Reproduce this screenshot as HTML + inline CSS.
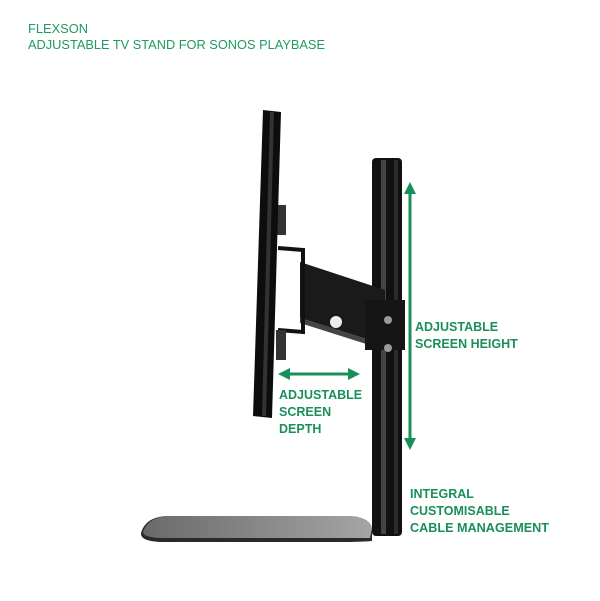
<!DOCTYPE html>
<html><head><meta charset="utf-8"><style>
html,body{margin:0;padding:0;background:#fff;}
svg{display:block}
text{font-family:"Liberation Sans",sans-serif;fill:#1f9a62;font-size:13px;}
.b{font-weight:bold;fill:#1a8f5a;font-size:12.5px}
</style></head><body>
<svg width="600" height="601" viewBox="0 0 600 601">
<defs><linearGradient id="g" x1="0" x2="1"><stop offset="0" stop-color="#6a6a6a"/><stop offset="1" stop-color="#a5a5a5"/></linearGradient></defs>
<rect width="600" height="601" fill="#fff"/>
<text x="28" y="33" textLength="60" lengthAdjust="spacingAndGlyphs">FLEXSON</text>
<text x="28" y="49" textLength="297" lengthAdjust="spacingAndGlyphs">ADJUSTABLE TV STAND FOR SONOS PLAYBASE</text>
<!-- base -->
<path d="M165 516 L350 516 Q372 518 372 530 L372 541 Q360 542 340 542 L160 542 Q140 541 141 533 Q145 518 165 516Z" fill="#2a2a2a"/>
<path d="M165 516 L350 516 Q370 518 372 528 L370 538 L160 538 Q143 537 143 532 Q147 519 165 516Z" fill="url(#g)"/>
<!-- pole -->
<rect x="372" y="158" width="30" height="378" rx="4" fill="#111"/>
<rect x="381" y="160" width="5" height="374" fill="#444"/>
<rect x="394" y="160" width="4" height="374" fill="#2b2b2b"/>
<!-- arm -->
<polygon points="300,262 385,290 385,345 300,318" fill="#1a1a1a"/>
<polygon points="300,318 385,345 385,350 300,323" fill="#444"/>
<rect x="365" y="300" width="40" height="50" fill="#151515"/>
<circle cx="336" cy="322" r="6" fill="#eee"/>
<circle cx="388" cy="320" r="4" fill="#999"/>
<circle cx="388" cy="348" r="4" fill="#999"/>
<!-- bracket -->
<path d="M278 248 L303 250 L303 332 L278 330" fill="none" stroke="#111" stroke-width="4"/>
<rect x="276" y="205" width="10" height="30" fill="#333"/>
<rect x="276" y="330" width="10" height="30" fill="#333"/>
<!-- screen -->
<polygon points="263,110 281,112 272,418 253,416" fill="#0d0d0d"/>
<polygon points="270,112 274,112 266,416 262,416" fill="#333"/>
<!-- arrows -->
<g stroke="#1a8f5a" stroke-width="3" fill="#1a8f5a">
<line x1="410" y1="192" x2="410" y2="440"/>
<line x1="288" y1="374" x2="350" y2="374"/>
</g>
<g fill="#1a8f5a">
<polygon points="410,182 404,194 416,194"/>
<polygon points="410,450 404,438 416,438"/>
<polygon points="278,374 290,368 290,380"/>
<polygon points="360,374 348,368 348,380"/>
</g>
<text class="b" x="279" y="399">ADJUSTABLE</text>
<text class="b" x="279" y="416">SCREEN</text>
<text class="b" x="279" y="433">DEPTH</text>
<text class="b" x="415" y="331">ADJUSTABLE</text>
<text class="b" x="415" y="348">SCREEN HEIGHT</text>
<text class="b" x="410" y="498">INTEGRAL</text>
<text class="b" x="410" y="515">CUSTOMISABLE</text>
<text class="b" x="410" y="532" textLength="139" lengthAdjust="spacingAndGlyphs">CABLE MANAGEMENT</text>
</svg>
</body></html>
